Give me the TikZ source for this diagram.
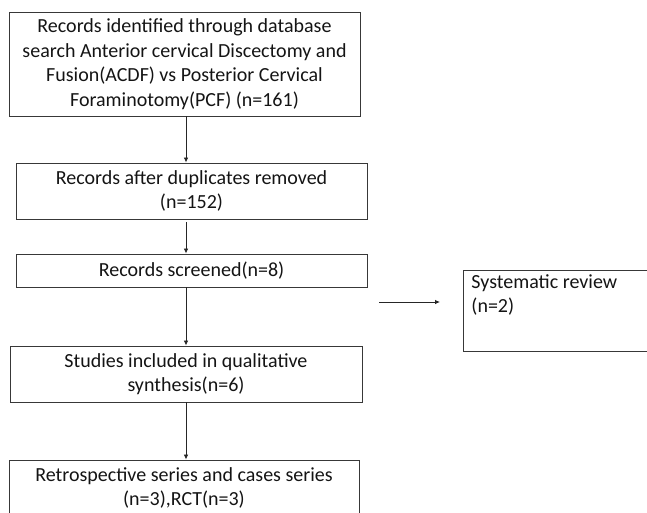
\documentclass[tikz,border=0pt]{standalone}
\usepackage{fontspec}
\setmainfont{Carlito}
\usetikzlibrary{arrows.meta}
\begin{document}
\begin{tikzpicture}[x=1pt,y=-1pt,
  box/.style={draw=black!78,line width=0.9pt,rectangle,inner sep=0pt,align=center,
    font=\fontsize{20}{24.6}\selectfont,text=black!92},
  arr/.style={draw=black!85,line width=0.8pt,-{Latex[length=5pt,width=4.5pt]}}]
\path[use as bounding box,clip] (0,0) rectangle (647,512);
\node[box,minimum width=351pt,minimum height=104pt] (b1) at (184.5,64)
  {Records identified through database\\search Anterior cervical Discectomy and\\Fusion(ACDF) vs Posterior Cervical\\Foraminotomy(PCF) (n=161)};
\node[box,minimum width=351pt,minimum height=56pt] (b2) at (191.5,191)
  {Records after duplicates removed\\(n=152)};
\node[box,minimum width=351pt,minimum height=33pt] (b3) at (191.5,270.5)
  {Records screened(n=8)};
\node[box,minimum width=352pt,minimum height=56pt] (b4) at (186,374)
  {Studies included in qualitative\\synthesis(n=6)};
\node[box,minimum width=350pt,minimum height=56pt] (b5) at (184,488)
  {Retrospective series and cases series\\(n=3),RCT(n=3)};
\node[box,minimum width=200pt,minimum height=81pt] (sys) at (563,310.5) {};
\node[box,draw=none,align=left,anchor=north west] (systxt) at (471,274)
  {Systematic review\\(n=2)};
\coordinate (hs) at (379,302);
\coordinate (he) at (440,302);
\draw[arr] (b1.south -| 186,0) -- (b2.north -| 186,0);
\draw[arr] ([yshift=-3pt]b2.south -| 186,0) -- (b3.north -| 186,0);
\draw[arr] (b3.south -| 186,0) -- (b4.north -| 186,0);
\draw[arr] (b4.south -| 186,0) -- (b5.north -| 186,0);
\draw[arr] (hs) -- (he);
\end{tikzpicture}
\end{document}
